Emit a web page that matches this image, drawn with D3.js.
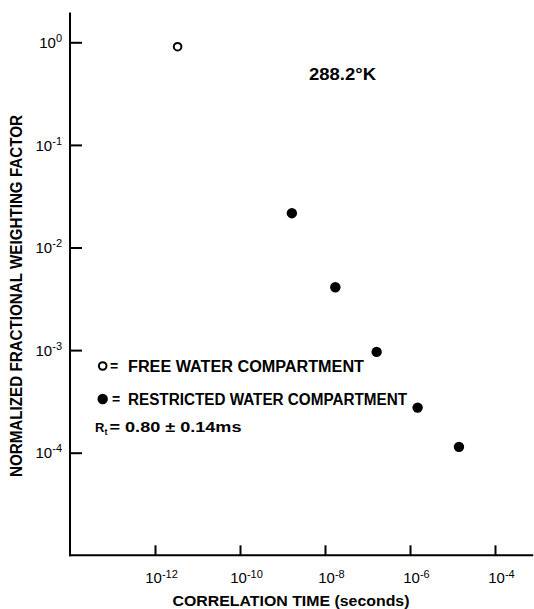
<!DOCTYPE html>
<html><head><meta charset="utf-8">
<script src="https://cdn.jsdelivr.net/npm/d3@7"></script>
<style>
body{margin:0;background:#fff}
text{font-family:"Liberation Sans",Arial,sans-serif;font-weight:bold;fill:#000}
.tick text{font-weight:normal}
</style>
</head><body><svg id="c" width="534" height="609"></svg>
<script>
// Data
const freeTime = [3.4e-12];
const freeWeight = [0.906];
const restrictedTime = [1.66e-9, 1.75e-8, 1.64e-7, 1.51e-6, 1.42e-5];
const restrictedWeight = [0.0216, 0.0041, 0.00096, 0.000275, 0.000114];
const xTickValues = [1e-12, 1e-10, 1e-8, 1e-6, 1e-4];
const xTickExponents = ["-12", "-10", "-8", "-6", "-4"];
const yTickValues = [1, 1e-1, 1e-2, 1e-3, 1e-4];
const yTickExponents = ["0", "-1", "-2", "-3", "-4"];
const xTitle = "CORRELATION TIME (seconds)";
const yTitle = "NORMALIZED FRACTIONAL WEIGHTING FACTOR";
const tempLabel = "288.2°K";
const legendFree = "FREE WATER COMPARTMENT";
const legendRestricted = "RESTRICTED WATER COMPARTMENT";

const svg = d3.select("#c");
const x = d3.scaleLog().domain([1e-14, 1e-3]).range([70, 70 + 11 * 42.5]);
const y = d3.scaleLog().domain([1e-5, 1]).range([555.3, 42.3]);
const xEnd = Math.pow(10, -3.1);
const yTop = Math.pow(10, 0.29);

// axis lines
svg.append("line").attr("x1", x(1e-14)).attr("x2", x(1e-14))
  .attr("y1", y(yTop)).attr("y2", y(1e-5) + 1)
  .attr("stroke", "#000").attr("stroke-width", 2);
svg.append("line").attr("x1", x(1e-14) - 1).attr("x2", x(xEnd))
  .attr("y1", y(1e-5)).attr("y2", y(1e-5))
  .attr("stroke", "#000").attr("stroke-width", 2);

// y axis ticks
const yAxis = d3.axisLeft(y).tickValues(yTickValues).tickSizeInner(-12).tickSizeOuter(0).tickPadding(8).tickFormat(() => "");
const gy = svg.append("g").attr("transform", `translate(${x(1e-14)},0)`).call(yAxis);
gy.select(".domain").remove();
gy.selectAll(".tick line").attr("stroke-width", 2);
gy.selectAll(".tick text").each(function(d, i) {
  const t = d3.select(this).attr("font-size", 15).attr("dy", "0.35em").attr("x", -8).attr("text-anchor", "end");
  t.text(null);
  t.append("tspan").text("10");
  t.append("tspan").attr("font-size", 11).attr("dy", "-0.55em").text(yTickExponents[i]);
});

// x axis ticks
const xAxis = d3.axisBottom(x).tickValues(xTickValues).tickSizeInner(-10).tickSizeOuter(0).tickPadding(17).tickFormat(() => "");
const gx = svg.append("g").attr("transform", `translate(0,${y(1e-5)})`).call(xAxis);
gx.select(".domain").remove();
gx.selectAll(".tick line").attr("stroke-width", 2);
gx.selectAll(".tick text").each(function(d, i) {
  const t = d3.select(this).attr("font-size", 15).attr("x", 6).attr("text-anchor", "middle");
  t.text(null);
  t.append("tspan").text("10");
  t.append("tspan").attr("font-size", 11).attr("dy", "-0.45em").text(xTickExponents[i]);
});

// titles
svg.append("text").attr("x", 291).attr("y", 606).attr("text-anchor", "middle")
  .attr("font-size", 15).attr("textLength", 237).attr("lengthAdjust", "spacingAndGlyphs").text(xTitle);
svg.append("text").attr("transform", "translate(22,296) rotate(-90)").attr("text-anchor", "middle")
  .attr("font-size", 16).attr("textLength", 362).attr("lengthAdjust", "spacingAndGlyphs").text(yTitle);

// points
svg.selectAll("circle.free").data(freeTime).join("circle").attr("class", "free")
  .attr("cx", d => x(d)).attr("cy", (d, i) => y(freeWeight[i])).attr("r", 3.8)
  .attr("fill", "none").attr("stroke", "#000").attr("stroke-width", 2);
svg.selectAll("circle.restr").data(restrictedTime).join("circle").attr("class", "restr")
  .attr("cx", d => x(d)).attr("cy", (d, i) => y(restrictedWeight[i])).attr("r", 5.2)
  .attr("fill", "#000");

// annotations
svg.append("text").attr("x", 309).attr("y", 80).attr("font-size", 16)
  .attr("textLength", 67).attr("lengthAdjust", "spacingAndGlyphs").text(tempLabel);

svg.append("circle").attr("cx", 102.7).attr("cy", 366).attr("r", 3.8)
  .attr("fill", "none").attr("stroke", "#000").attr("stroke-width", 2);
svg.append("text").attr("x", 110).attr("y", 371).attr("font-size", 14).text("=");
svg.append("text").attr("x", 128).attr("y", 372).attr("font-size", 16)
  .attr("textLength", 236).attr("lengthAdjust", "spacingAndGlyphs").text(legendFree);
svg.append("circle").attr("cx", 102.7).attr("cy", 399).attr("r", 5.2).attr("fill", "#000");
svg.append("text").attr("x", 112).attr("y", 404).attr("font-size", 14).text("=");
svg.append("text").attr("x", 128).attr("y", 405).attr("font-size", 16)
  .attr("textLength", 279).attr("lengthAdjust", "spacingAndGlyphs").text(legendRestricted);

svg.append("text").attr("x", 95).attr("y", 432).attr("font-size", 13).text("R");
svg.append("text").attr("x", 104.5).attr("y", 435).attr("font-size", 9).text("t");
svg.append("text").attr("x", 109.5).attr("y", 432).attr("font-size", 14)
  .attr("textLength", 132).attr("lengthAdjust", "spacingAndGlyphs").text("= 0.80 ± 0.14ms");
</script>
</body></html>
